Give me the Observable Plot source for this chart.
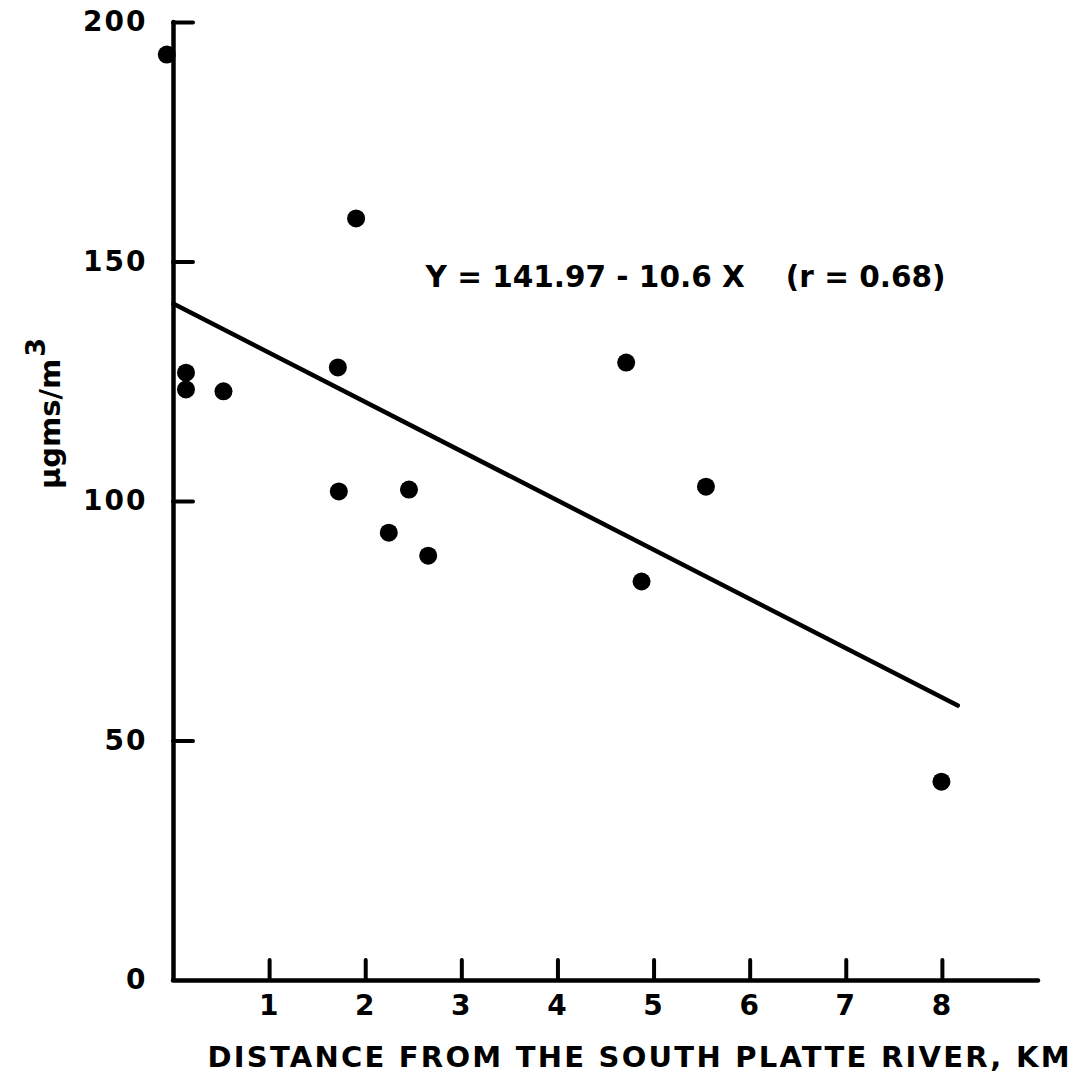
<!DOCTYPE html>
<html><head><meta charset="utf-8">
<script src="https://cdn.jsdelivr.net/npm/d3@7"></script>
<script src="https://cdn.jsdelivr.net/npm/@observablehq/plot@0.6"></script>
<style>html,body{margin:0;padding:0;background:#fff;} svg{display:block}</style>
</head><body><div id="chart"></div>
<script>
const distanceKm = [-0.07, 0.13, 0.13, 0.52, 1.71, 1.72, 1.90, 2.24, 2.45, 2.65, 4.71, 4.87, 5.54, 7.99];
const concentration = [193.3, 126.9, 123.4, 123.0, 128.0, 102.1, 159.1, 93.5, 102.5, 88.7, 129.0, 83.3, 103.1, 41.5];
const fitX = [0, 8.16];
const fitY = [141.3, 57.4];
const xTicks = [1, 2, 3, 4, 5, 6, 7, 8];
const yTickMarks = [50, 100, 150, 200];
const yTickLabels = [0, 50, 100, 150, 200];
const xTitle = "DISTANCE FROM THE SOUTH PLATTE RIVER, KM";
const yTitleBase = "μgms/m";
const yTitleSup = "3";
const equation = "Y = 141.97 - 10.6 X    (r = 0.68)";

const points = distanceKm.map((d, i) => ({d, c: concentration[i]}));
const fit = fitX.map((d, i) => ({d, c: fitY[i]}));

const chart = Plot.plot({
  width: 1083,
  height: 1075,
  marginLeft: 173,
  marginRight: 45,
  marginTop: 22,
  marginBottom: 95,
  x: {domain: [0, 9]},
  y: {domain: [0, 200]},
  style: {fontFamily: "'DejaVu Sans', Verdana, sans-serif", fontWeight: "bold", color: "black", background: "white", overflow: "visible"},
  marks: [
    Plot.ruleX([0], {strokeWidth: 4.5, strokeLinecap: "round"}),
    Plot.ruleY([0], {strokeWidth: 4.5, strokeLinecap: "round"}),
    Plot.axisX(xTicks, {anchor: "bottom", tickSize: -20, strokeWidth: 4, strokeLinecap: "round", tickFormat: () => "", label: null}),
    Plot.axisX(xTicks, {anchor: "bottom", tickSize: 0, tickPadding: 15, fontSize: 28, fontWeight: "bold", label: null}),
    Plot.axisY(yTickMarks, {anchor: "left", tickSize: -20, strokeWidth: 4, strokeLinecap: "round", tickFormat: () => "", label: null}),
    Plot.axisY(yTickLabels, {anchor: "left", tickSize: 0, tickPadding: 26, fontSize: 28, fontWeight: "bold", label: null}),
    Plot.line(fit, {x: "d", y: "c", strokeWidth: 4.5, strokeLinecap: "round"}),
    Plot.dot(points, {x: "d", y: "c", r: 9, fill: "black", stroke: "none"}),
    Plot.text([equation], {frameAnchor: "top-left", textAnchor: "start", lineAnchor: "middle", dx: 252, dy: 255, fontSize: 30, fontWeight: "bold"}),
    Plot.text([xTitle], {frameAnchor: "bottom-left", textAnchor: "start", lineAnchor: "middle", dx: 34, dy: 77, fontSize: 29, fontWeight: "bold"}),
    Plot.text([yTitleBase], {frameAnchor: "left", rotate: -90, textAnchor: "middle", lineAnchor: "middle", dx: -123, dy: -88, fontSize: 29, fontWeight: "bold"})
  ]
});
document.getElementById("chart").appendChild(chart);

chart.querySelectorAll("text").forEach(t => {
  const s = t.textContent;
  if (s === xTitle) { t.setAttribute("textLength", 862); t.setAttribute("lengthAdjust", "spacing"); }
  if (s === equation) { t.style.whiteSpace = "pre"; t.setAttribute("textLength", 520); t.setAttribute("lengthAdjust", "spacingAndGlyphs"); }
  if (s === yTitleBase) {
    t.textContent = "";
    const NS = "http://www.w3.org/2000/svg";
    const a = document.createElementNS(NS, "tspan"); a.textContent = yTitleBase; t.appendChild(a);
    const b = document.createElementNS(NS, "tspan"); b.textContent = yTitleSup; b.setAttribute("dy", "-0.55em"); b.setAttribute("dx", "2"); b.setAttribute("font-size", "27"); t.appendChild(b);
  }
  if (/^\d+$/.test(s)) { t.style.letterSpacing = "2px"; }
});
</script>
</body></html>
